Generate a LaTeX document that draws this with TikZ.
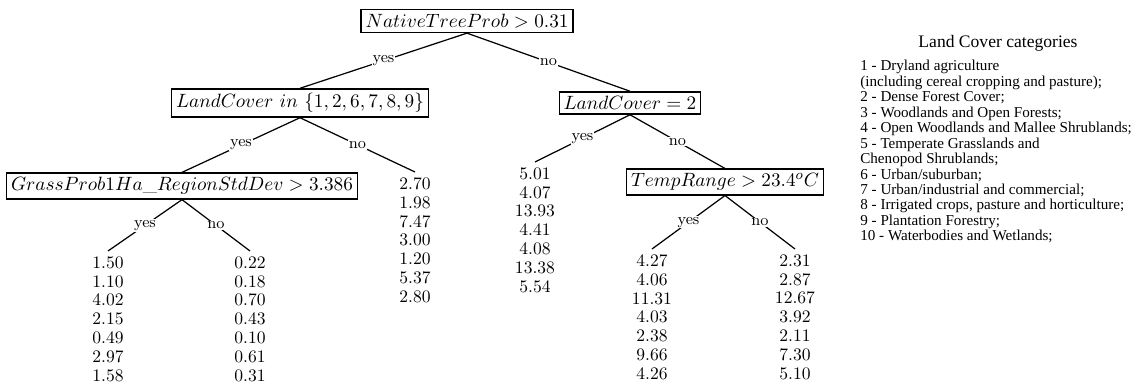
\documentclass[tikz,border=0pt]{standalone}
\usepackage{fontspec}
\newfontfamily\legendfont{Liberation Serif}
\begin{document}
\begin{tikzpicture}[x=0.02cm,y=-0.02cm,
    test/.style={draw,line width=0.8pt,inner sep=2.5pt,font=\fontsize{11}{13}\selectfont},
    leaf/.style={align=center,anchor=north,inner sep=3pt,font=\fontsize{10}{10.7}\selectfont},
    branch/.style={line width=0.7pt},
    ans/.style={fill=white,inner sep=0.6pt,font=\fontsize{9}{10}\selectfont}]
  \useasboundingbox (0,0) rectangle (1139,385);
  % tests
  \node[test] (root)  at (467,21)  {$NativeTreeProb > 0.31$};
  \node[test] (cover) at (300,103) {$LandCover\ in\ \{1,2,6,7,8,9\}$};
  \node[test] (dense) at (630,103) {$LandCover = 2$};
  \node[test] (grass) at (182,186) {$GrassProb1Ha\_RegionStdDev > 3.386$};
  \node[test] (temp)  at (725,182) {$TempRange > 23.4^oC$};
  % leaves
  \node[leaf] (coverno)  at (415,172) {2.70\\1.98\\7.47\\3.00\\1.20\\5.37\\2.80};
  \node[leaf] (denseyes) at (535,162) {5.01\\4.07\\13.93\\4.41\\4.08\\13.38\\5.54};
  \node[leaf] (grassyes) at (108,251) {1.50\\1.10\\4.02\\2.15\\0.49\\2.97\\1.58};
  \node[leaf] (grassno)  at (250,251) {0.22\\0.18\\0.70\\0.43\\0.10\\0.61\\0.31};
  \node[leaf] (tempyes)  at (652,249) {4.27\\4.06\\11.31\\4.03\\2.38\\9.66\\4.26};
  \node[leaf] (tempno)   at (795,249) {2.31\\2.87\\12.67\\3.92\\2.11\\7.30\\5.10};
  % branches
  \draw[branch] (root.south)  -- node[ans] (rooty)  {yes} (cover.north);
  \draw[branch] (root.south)  -- node[ans] (rootn)  {no}  (dense.north);
  \draw[branch] (cover.south) -- node[ans] (covery) {yes} (grass.north);
  \draw[branch] (cover.south) -- node[ans] (covern) {no}  (coverno.north);
  \draw[branch] (dense.south) -- node[ans] (densey) {yes} (denseyes.north);
  \draw[branch] (dense.south) -- node[ans] (densen) {no}  (temp.north);
  \draw[branch] (grass.south) -- node[ans] (grassy) {yes} (grassyes.north);
  \draw[branch] (grass.south) -- node[ans] (grassn) {no}  (grassno.north);
  \draw[branch] (temp.south)  -- node[ans] (tempy)  {yes} (tempyes.north);
  \draw[branch] (temp.south)  -- node[ans] (tempn)  {no}  (tempno.north);
  % legend
  \node[anchor=base] (legtitle) at (998,48)
    {\legendfont\fontsize{10}{12}\selectfont Land Cover categories};
  \node[anchor=north west,align=left,inner sep=0pt,
    font=\legendfont\fontsize{8.6}{8.8}\selectfont] (legcats) at (860,60)
    {1 - Dryland agriculture\\
     (including cereal cropping and pasture);\\
     2 - Dense Forest Cover;\\
     3 - Woodlands and Open Forests;\\
     4 - Open Woodlands and Mallee Shrublands;\\
     5 - Temperate Grasslands and\\
     Chenopod Shrublands;\\
     6 - Urban/suburban;\\
     7 - Urban/industrial and commercial;\\
     8 - Irrigated crops, pasture and horticulture;\\
     9 - Plantation Forestry;\\
     10 - Waterbodies and Wetlands;};
\end{tikzpicture}
\end{document}
